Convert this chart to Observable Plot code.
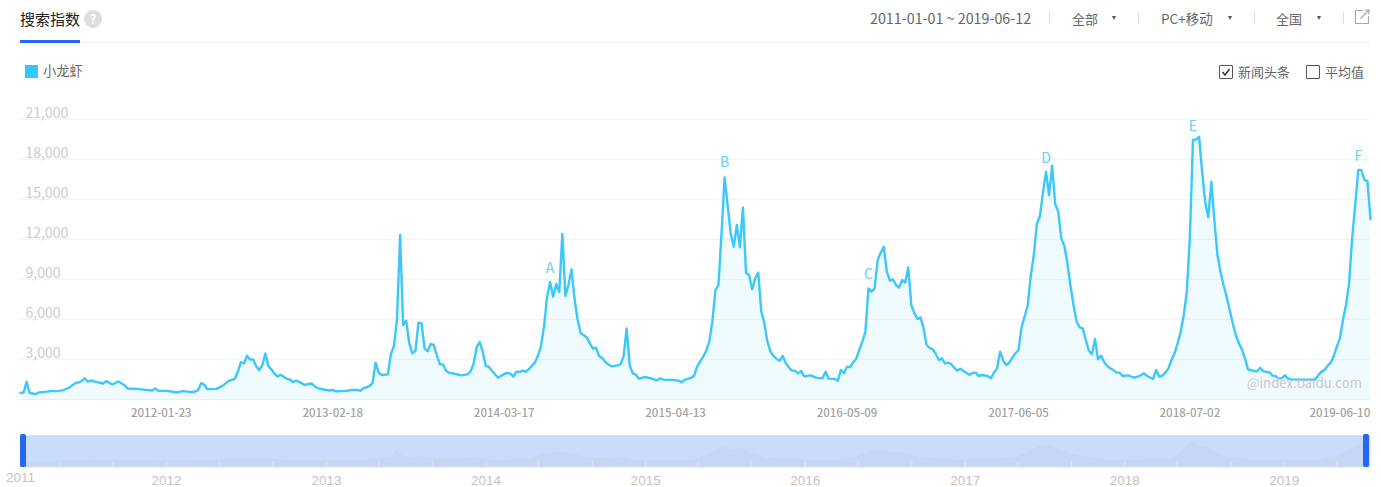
<!DOCTYPE html>
<html lang="zh">
<head>
<meta charset="utf-8">
<script src="https://cdn.jsdelivr.net/npm/d3@7"></script>
<script src="https://cdn.jsdelivr.net/npm/@observablehq/plot@0.6"></script>
<style>
html,body{margin:0;padding:0;background:#fff;width:1381px;height:487px;overflow:hidden}
body{font-family:"Noto Sans CJK SC","Noto Sans",sans-serif;color:#666;position:relative}
.a{position:absolute;white-space:nowrap;line-height:1}
.sep{position:absolute;top:12px;width:1px;height:12px;background:#e0e0e0}
.arrow{position:absolute;top:16px;width:0;height:0;border-left:2.5px solid transparent;border-right:2.5px solid transparent;border-top:4px solid #555}
.box{position:absolute;top:65px;width:12px;height:12px;border:1px solid #555;border-radius:1px}
.handle{position:absolute;top:434px;height:33px;width:5.5px;background:#2468f2;border-radius:2px}
#main,#over{position:absolute;left:0}
#main{top:90px}#over{top:430px}
svg{display:block}
</style>
</head>
<body>
<div class="a" style="left:20px;top:11px;font-size:15px;color:#222">搜索指数</div>
<div class="a" style="left:84px;top:10px;width:18px;height:18px;border-radius:50%;background:#ddd;color:#fff;font-size:13px;line-height:18px;text-align:center;font-weight:700">?</div>
<div class="a" style="left:20px;top:42px;width:1350px;height:1px;background:#f0f0f0"></div>
<div class="a" style="left:20px;top:40px;width:60px;height:3px;background:#2468f2"></div>
<div class="a" style="left:870px;top:11px;font-size:14.3px">2011-01-01 ~ 2019-06-12</div>
<div class="sep" style="left:1049px"></div>
<div class="a" style="left:1072px;top:12px;font-size:13px">全部</div><div class="arrow" style="left:1112px"></div>
<div class="sep" style="left:1138px"></div>
<div class="a" style="left:1161px;top:12px;font-size:13.5px">PC+移动</div><div class="arrow" style="left:1228px"></div>
<div class="sep" style="left:1254px"></div>
<div class="a" style="left:1276px;top:12px;font-size:13px">全国</div><div class="arrow" style="left:1317px"></div>
<div class="sep" style="left:1343px"></div>
<svg class="a" style="left:1354px;top:9px" width="16" height="16" viewBox="0 0 16 16" fill="none" stroke="#aaa" stroke-width="1.2"><path d="M9 1.5H1.5V14.5H14.5V7"/><path d="M6.5 9.5L14.5 1.5M10.5 1H15V5.5"/></svg>
<div class="a" style="left:25px;top:65px;width:13px;height:13px;background:#33c7ff"></div>
<div class="a" style="left:43px;top:64px;font-size:13.3px">小龙虾</div>
<div class="box" style="left:1219px"></div>
<svg class="a" style="left:1219px;top:65px" width="14" height="14" fill="none" stroke="#333" stroke-width="1.4"><path d="M3.5 7L6 10L10.5 4"/></svg>
<div class="a" style="left:1238px;top:65px;font-size:13px">新闻头条</div>
<div class="box" style="left:1306px"></div>
<div class="a" style="left:1325px;top:65px;font-size:13px">平均值</div>
<div id="main"></div>
<div id="over"></div>
<div class="a" style="left:1247px;top:376px;font-size:13.2px;color:#c9c9c9">@index.baidu.com</div>
<div class="handle" style="left:20px"></div>
<div class="handle" style="left:1363px"></div>
<script>
// Main series: week number counted from seriesStart, and search index value.
const seriesStart = "2011-03-07";
const weeks = [0,1,2,3,4,5,6,8,10,12,14,16,18,19,20,21,22,23,25,27,28,30,32,34,35,38,41,43,44,45,48,51,53,56,57,58,59,60,61,64,66,68,70,71,72,73,74,75,76,77,78,79,80,81,82,83,84,85,87,88,89,90,91,93,94,95,97,99,101,102,103,104,106,108,110,111,112,114,115,116,117,118,120,121,122,123,124,125,126,127,128,129,130,131,132,133,134,135,136,137,138,139,140,142,144,146,147,148,149,150,151,152,153,154,156,158,159,160,161,162,163,164,165,166,168,169,170,171,172,173,174,175,176,177,178,179,180,181,182,183,184,185,186,187,188,189,190,191,192,193,195,196,197,198,199,200,201,202,204,206,208,209,210,213,215,216,217,219,220,221,222,223,224,225,226,227,228,229,230,231,232,233,234,235,236,237,238,239,240,241,242,243,244,245,246,247,248,249,250,251,252,253,254,255,256,258,260,261,262,263,264,266,267,268,269,270,271,272,273,274,275,276,277,278,279,280,281,282,283,284,285,286,287,288,289,290,291,292,293,294,295,296,297,298,299,300,301,302,303,304,305,306,307,308,310,311,312,313,314,316,317,318,319,320,321,322,323,324,325,326,327,328,329,330,331,332,333,334,335,336,337,338,339,340,341,342,343,344,345,346,347,348,349,350,351,352,353,354,355,356,357,358,359,360,361,362,363,364,366,367,368,370,371,372,373,374,375,376,377,378,379,380,381,382,383,384,385,386,387,388,389,390,391,392,393,394,395,396,397,398,399,400,401,403,404,405,406,408,409,410,411,412,413,414,415,418,421,423,424,425,426,427,428,429,430,431,432,433,434,435,436,437,438,439,440,441];
const values = [500,525,1325,480,450,400,525,575,625,625,700,900,1250,1275,1375,1600,1325,1425,1300,1200,1375,1125,1350,1075,825,800,725,675,825,650,650,525,625,550,600,700,1225,1125,775,800,1025,1400,1550,2075,2800,2700,3275,3000,3000,2500,2200,2575,3450,2500,2250,1925,1725,1850,1550,1500,1300,1425,1325,1075,1175,1200,850,750,675,725,600,625,625,712,712,662,837,1012,1212,2762,2012,1837,1887,3412,4012,6087,12337,5587,5912,4212,3462,3637,5762,5712,3837,3612,4162,4087,3337,2637,2637,2162,2012,1912,1812,1887,2087,2662,3912,4312,3587,2512,2462,2162,1637,1912,1987,1937,1712,2087,2062,2162,2087,2262,2762,3262,3962,5462,7662,8812,7712,8662,8062,12412,7762,8587,9762,7537,5962,4962,4812,4662,4212,3812,3887,3262,3112,2837,2637,2487,2562,2637,3212,5337,2587,1962,1862,1562,1687,1587,1437,1587,1487,1462,1412,1287,1487,1612,1762,2462,2837,3212,3662,4337,5837,8212,8587,12462,16662,14587,12462,11462,13087,11412,14412,9512,9337,8262,9087,9512,6587,5712,4337,3587,3262,3037,2912,3262,2712,2412,2162,2162,1962,2137,1737,1812,1637,1587,1612,2087,1562,1537,1412,2212,1962,2462,2412,2787,3062,3712,4337,5087,8337,8087,8337,10462,11012,11462,9587,8912,9012,8587,8387,8962,8762,9912,7087,6462,6037,6162,5337,4087,3862,3762,3412,2962,3087,2712,2762,2662,2387,2162,2312,2137,1862,1987,2012,1762,1837,1762,1587,2012,2337,3587,2912,2587,2762,3137,3462,3712,5412,6212,7012,9212,10837,13162,13762,15512,17087,15337,17537,14662,14087,12087,11512,10212,8512,7087,5837,5412,5337,4462,3662,3387,4537,3012,3287,2787,2512,2337,2212,2012,2012,1762,1787,1812,1687,1637,1812,1962,1762,1537,2212,1712,1787,2012,2337,2962,3462,4212,5087,6337,8087,12212,19462,19512,19712,17087,14837,13662,16337,13462,10837,9587,8587,7712,6712,5712,4837,4212,3762,3087,2262,2137,2112,2387,2112,2037,1787,1762,1587,1587,1812,1587,1512,1487,1487,1487,1837,2087,2212,2537,2762,3262,3962,4587,5962,7087,8712,12087,14587,17212,17212,16462,16387,13512];

// Letter annotations.
const noteLetters = ["A","B","C","D","E","F"];
const noteWeeks = [173,230,277,335,383,437];
const noteValues = [9860,17740,9340,18110,20510,18260];

// Axis labels.
const yTicks = [3000,6000,9000,12000,15000,18000,21000];
const dateLabels = ["2012-01-23","2013-02-18","2014-03-17","2015-04-13","2016-05-09","2017-06-05","2018-07-02","2019-06-10"];

// Overview strip silhouette.
const overviewStart = "2011-02-01";
const overviewWeeks = [0,2,24,48,59,74,81,91,113,121,123,125,128,130,135,140,149,155,166,171,173,176,180,184,194,197,199,213,221,225,230,233,235,238,240,244,256,269,274,277,280,284,288,292,294,305,320,326,330,334,336,340,345,355,375,378,380,383,386,388,390,394,403,425,431,436,439,441];
const overviewValues = [3570,3570,5355,4335,4590,6120,5865,4845,5100,7140,12240,8160,6630,7905,6630,5610,6885,5100,5610,9690,10710,11730,10200,7650,5865,7650,5100,4590,5610,10200,15300,12750,14535,11220,10200,6630,5100,5100,8160,11220,12750,10965,11220,8670,7140,5355,6120,7650,12240,16830,16830,13260,8670,5100,5610,8160,13260,19380,15810,14790,12240,7650,5100,5100,9180,15300,17340,17340];
const overviewYears = [2012,2013,2014,2015,2016,2017,2018,2019];

const utc = s => new Date(s + "T00:00:00Z");
const weekDate = (start, w) => d3.utcDay.offset(utc(start), w * 7);
const series = weeks.map((w, i) => ({date: weekDate(seriesStart, w), value: values[i]}));
const notes = noteLetters.map((letter, i) => ({letter, date: weekDate(seriesStart, noteWeeks[i]), value: noteValues[i]}));
const overview = overviewWeeks.map((w, i) => ({date: weekDate(overviewStart, w), value: overviewValues[i]}));
const font = '"Noto Sans CJK SC","Noto Sans",sans-serif';
const latin = '"Liberation Sans",sans-serif';
const lineColor = "#3cc8fb";

document.getElementById("main").append(Plot.plot({
  width: 1381, height: 325,
  marginLeft: 20, marginRight: 11, marginTop: 29, marginBottom: 16,
  style: {fontFamily: font, background: "transparent", overflow: "visible"},
  x: {type: "utc", domain: [weekDate(seriesStart, 0), weekDate(seriesStart, 441)]},
  y: {domain: [0, 21000]},
  marks: [
    Plot.ruleY(yTicks, {stroke: "#f3f3f3", strokeWidth: 1}),
    Plot.ruleY([0], {stroke: "#ececec", strokeWidth: 1}),
    Plot.areaY(series, {x: "date", y: "value", fill: "#33c5ff", fillOpacity: 0.075}),
    Plot.lineY(series, {x: "date", y: "value", stroke: lineColor, strokeWidth: 2.4, strokeLinejoin: "round"}),
    Plot.text(notes, {x: "date", y: "value", text: "letter", fill: "#62d0fb", fontSize: 14}),
    Plot.axisY(yTicks, {anchor: "left", label: null, tickSize: 0, tickPadding: 0, textAnchor: "start", dx: 5, dy: -6, fontSize: 14, fill: "#cccccc", tickFormat: d3.format(",")}),
    Plot.axisX(dateLabels.map(utc), {anchor: "bottom", label: null, tickSize: 0, tickPadding: 9.5, fontSize: 11.5, fill: "#a3a3a3", fontWeight: 500, tickFormat: d3.utcFormat("%Y-%m-%d")})
  ]
}));

const fourMonthTicks = d3.utcMonth.every(4).range(utc("2011-05-01"), utc("2019-07-01"));
document.getElementById("over").append(Plot.plot({
  width: 1381, height: 57,
  marginLeft: 20, marginRight: 11.5, marginTop: 5, marginBottom: 20.5,
  style: {fontFamily: font, background: "transparent", overflow: "visible"},
  x: {type: "utc", domain: [weekDate(overviewStart, 0), weekDate(overviewStart, 441)]},
  y: {axis: null, domain: [0, 24000]},
  marks: [
    Plot.frame({fill: "#c9dcfb", stroke: "#dfe3ea", strokeWidth: 1}),
    Plot.areaY(overview, {x: "date", y: "value", fill: "#c5d7f4"}),
    Plot.axisX(fourMonthTicks, {anchor: "bottom", label: null, tickSize: -5, stroke: "#e2e6ee", tickFormat: () => ""}),
    Plot.axisX(overviewYears.map(y => new Date(Date.UTC(y, 0, 1))), {anchor: "bottom", label: null, tickSize: 0, tickPadding: 8, fontSize: 13.5, fontFamily: latin, fill: "#c6c3c0", tickFormat: d3.utcFormat("%Y")}),
    Plot.axisX([weekDate(overviewStart, 0)], {anchor: "bottom", label: null, tickSize: 0, tickPadding: 5.5, fontSize: 13.5, fontFamily: latin, fill: "#c6c3c0", tickFormat: () => "2011"})
  ]
}));
</script>
</body>
</html>
